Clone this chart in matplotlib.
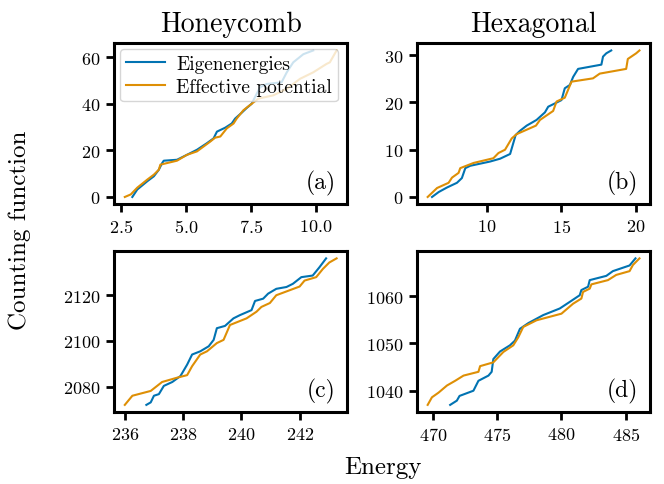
import matplotlib
matplotlib.use("Agg")
import matplotlib.pyplot as plt

plt.rcParams['font.family'] = 'serif'
plt.rcParams['font.serif'] = ['cmr10']
plt.rcParams['mathtext.fontset'] = 'cm'
plt.rcParams['axes.formatter.use_mathtext'] = True
plt.rcParams['axes.unicode_minus'] = False

BLUE = '#0173b2'
ORANGE = '#de8f05'

# (a) honeycomb, low energies
a_eig_E = [2.92, 3.11, 3.50, 3.75, 3.94, 4.07, 4.13, 4.64, 5.02, 5.41, 5.79, 6.05, 6.18, 6.50,
           6.75, 6.88, 7.14, 7.33, 7.52, 7.65, 7.84, 8.10, 8.67, 8.87, 9.12, 9.51, 9.89]
a_eig_N = [0, 3.2, 6.8, 8.9, 11.7, 14.6, 15.6, 16.0, 18.1, 20.3, 23.1, 25.2, 28.1, 29.8,
           31.6, 33.7, 36.3, 38.3, 40.1, 43.0, 47.2, 48.6, 49.3, 53.6, 57.9, 61.4, 63]
a_eff_E = [2.63, 2.86, 3.11, 3.50, 3.75, 3.94, 4.00, 4.64, 5.02, 5.41, 5.92, 6.11, 6.31, 6.56,
           6.82, 6.94, 7.20, 7.52, 7.78, 8.35, 8.87, 9.38, 9.89, 10.40, 10.53, 10.79]
a_eff_N = [0, 1.1, 4.0, 7.5, 9.6, 11.7, 13.9, 15.6, 18.1, 19.6, 23.8, 25.5, 26.0, 29.5,
           31.6, 33.7, 37.3, 40.1, 42.3, 43.7, 46.5, 50.8, 53.6, 57.2, 57.9, 63]

# (b) hexagonal, low energies
b_eig_E = [6.33, 6.78, 7.33, 8.00, 8.33, 8.56, 8.89, 10.22, 10.89, 11.56, 11.93, 12.22, 12.67,
           13.33, 13.89, 14.11, 14.56, 15.00, 15.22, 15.56, 15.78, 16.11, 17.67, 17.78, 18.00, 18.33]
b_eig_N = [0, 1.05, 2.0, 3.0, 4.0, 6.1, 6.6, 7.5, 8.1, 9.1, 13.1, 14.0, 15.1,
           16.3, 17.9, 19.1, 19.8, 20.5, 23.0, 23.7, 25.4, 27.1, 28.0, 29.7, 30.4, 31]
b_eff_E = [6.04, 6.67, 7.44, 7.67, 8.11, 8.22, 9.11, 10.44, 10.78, 11.22, 11.67, 12.00, 13.29,
           13.56, 14.44, 14.67, 15.22, 15.67, 17.11, 17.56, 19.33, 19.44, 20.00, 20.22]
b_eff_N = [0, 1.9, 3.0, 4.1, 5.1, 6.1, 7.2, 8.2, 9.3, 10.0, 12.4, 13.3, 15.1,
           16.3, 18.2, 20.2, 21.0, 24.4, 25.1, 26.1, 27.1, 29.2, 30.4, 31]

# (c) honeycomb, high energies
c_eig_E = [236.74, 236.89, 237.00, 237.17, 237.34, 237.63, 237.91, 238.14, 238.31, 238.59,
           238.88, 239.05, 239.16, 239.44, 239.73, 239.95, 240.35, 240.47, 240.75, 240.92,
           241.20, 241.55, 241.77, 242.06, 242.45, 242.68, 242.91]
c_eig_N = [2072, 2073.1, 2076, 2076.7, 2080.3, 2082, 2084.6, 2089.6, 2094, 2095.4,
           2097.6, 2100.4, 2105.5, 2106.5, 2109.8, 2111.2, 2113.4, 2117.4, 2118.4, 2120.6,
           2122.7, 2123.5, 2124.9, 2127.8, 2128.5, 2132.1, 2136]
c_eff_E = [236.00, 236.26, 236.89, 237.28, 237.80, 238.14, 238.31, 238.59, 238.82, 239.16,
           239.39, 239.61, 240.18, 240.52, 240.69, 240.98, 241.20, 242.00, 242.17, 242.57,
           242.80, 243.02, 243.27]
c_eff_N = [2072, 2076, 2078.1, 2082, 2083.9, 2085, 2088.9, 2094, 2095.4, 2099,
           2100.4, 2106.9, 2109.8, 2112.7, 2114.8, 2116.5, 2119.9, 2123.7, 2126.3, 2127.8,
           2131.4, 2134.2, 2136]

# (d) hexagonal, high energies
d_eig_E = [471.34, 471.86, 472.07, 473.15, 473.54, 474.32, 474.57, 474.70, 475.22, 475.99,
           476.38, 476.77, 477.42, 478.58, 479.87, 480.65, 481.42, 481.55, 482.07, 482.20,
           483.49, 484.00, 485.30, 485.76]
d_eig_N = [1037, 1037.9, 1038.9, 1040, 1042.1, 1043.2, 1044, 1046.7, 1048.3, 1049.6,
           1050.6, 1053.1, 1054.3, 1056, 1057.4, 1058.8, 1060.2, 1061.3, 1062, 1063.4,
           1064.3, 1065.3, 1066.5, 1068]
d_eff_E = [469.59, 469.92, 470.44, 471.09, 471.73, 472.38, 473.54, 473.67, 474.70, 475.48,
           476.25, 476.64, 477.03, 478.06, 480.00, 480.90, 481.55, 481.68, 482.20, 482.33,
           483.62, 484.26, 485.30, 485.56, 486.07]
d_eff_N = [1037, 1038.6, 1039.6, 1041.1, 1042.1, 1043.2, 1044, 1045.2, 1046, 1048.2,
           1049.6, 1051.3, 1053.5, 1054.9, 1056.3, 1058.4, 1059.5, 1060.9, 1061.6, 1062.5,
           1063.4, 1064.5, 1065.3, 1066.6, 1068]

panels = [
    ('(a)', a_eig_E, a_eig_N, a_eff_E, a_eff_N, [2.5, 5.0, 7.5, 10.0], [0, 20, 40, 60]),
    ('(b)', b_eig_E, b_eig_N, b_eff_E, b_eff_N, [10, 15, 20], [0, 10, 20, 30]),
    ('(c)', c_eig_E, c_eig_N, c_eff_E, c_eff_N, [236, 238, 240, 242], [2080, 2100, 2120]),
    ('(d)', d_eig_E, d_eig_N, d_eff_E, d_eff_N, [470, 475, 480, 485], [1040, 1050, 1060]),
]

fig, axes = plt.subplots(2, 2, figsize=(6.64, 4.85), dpi=100)
fig.subplots_adjust(left=0.172, right=0.979, top=0.909, bottom=0.148, wspace=0.30, hspace=0.29)

for ax, (lab, eE, eN, fE, fN, xt, yt) in zip(axes.flat, panels):
    ax.plot(eE, eN, color=BLUE, lw=1.5, label='Eigenenergies')
    ax.plot(fE, fN, color=ORANGE, lw=1.5, label='Effective potential')
    ax.set_xticks(xt)
    ax.set_yticks(yt)
    for s in ax.spines.values():
        s.set_linewidth(2.2)
    ax.tick_params(width=2, length=6, labelsize=13, pad=4)
    ax.text(0.95, 0.06, lab, transform=ax.transAxes, ha='right', va='bottom', fontsize=17)

axes[0, 0].legend(loc='upper left', fontsize=14, borderaxespad=0.3, handlelength=2.0,
                  handletextpad=0.6, borderpad=0.3, labelspacing=0.25)
axes[0, 0].set_title('Honeycomb', fontsize=20, pad=9)
axes[0, 1].set_title('Hexagonal', fontsize=20, pad=9)

fig.text(0.03, 0.525, 'Counting function', rotation=90, ha='center', va='center', fontsize=18)
fig.text(0.577, 0.035, 'Energy', ha='center', va='center', fontsize=18)

fig.savefig('out.png', dpi=100)
